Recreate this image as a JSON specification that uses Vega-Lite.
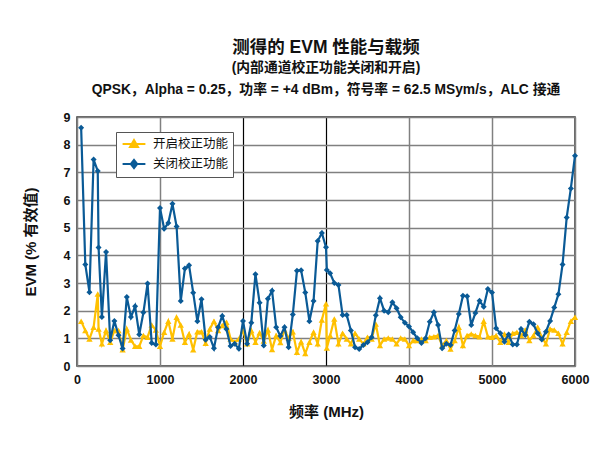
{
  "$schema": "https://vega.github.io/schema/vega-lite/v6.json",
  "autosize": "none",
  "width": 498,
  "height": 249,
  "padding": {"left": 77, "top": 117, "right": 27, "bottom": 92},
  "background": "white",
  "config": {
    "font": "Liberation Sans, Noto Sans CJK SC",
    "view": {"stroke": "#333333", "strokeWidth": 1.5},
    "axis": {"labelFont": "Liberation Sans, Noto Sans CJK SC", "titleFont": "Liberation Sans, Noto Sans CJK SC", "labelFontWeight": "bold", "titleFontWeight": "bold", "labelColor": "#111", "titleColor": "#111", "gridColor": "#808080", "gridWidth": 1.5, "gridOpacity": 1, "ticks": false, "domain": false, "labelFlush": false, "labelOverlap": false, "labelBound": false}
  },
  "title": {
    "text": "测得的 EVM 性能与载频",
    "subtitle": ["(内部通道校正功能关闭和开启)", "QPSK，Alpha = 0.25，功率 = +4 dBm，符号率 = 62.5 MSym/s，ALC 接通"],
    "font": "Liberation Sans, Noto Sans CJK SC",
    "fontSize": 17.5,
    "fontWeight": "bold",
    "color": "#111",
    "subtitleFont": "Liberation Sans, Noto Sans CJK SC",
    "subtitleFontSize": 13.8,
    "subtitleFontWeight": "bold",
    "subtitleColor": "#111",
    "subtitleLineHeight": 22,
    "subtitlePadding": 5,
    "anchor": "middle",
    "offset": 14
  },
  "data": {"name": "evm"},
  "datasets": {
    "evm": [
      {"f":50,"v":1.62,"s":"开启校正功能"},{"f":100,"v":1.28,"s":"开启校正功能"},{"f":150,"v":0.98,"s":"开启校正功能"},{"f":200,"v":1.40,"s":"开启校正功能"},{"f":250,"v":2.6,"s":"开启校正功能"},{"f":260,"v":1.34,"s":"开启校正功能"},{"f":300,"v":0.80,"s":"开启校正功能"},{"f":350,"v":1.28,"s":"开启校正功能"},{"f":400,"v":0.86,"s":"开启校正功能"},{"f":450,"v":1.28,"s":"开启校正功能"},{"f":500,"v":1.28,"s":"开启校正功能"},{"f":550,"v":0.59,"s":"开启校正功能"},{"f":600,"v":1.34,"s":"开启校正功能"},{"f":650,"v":0.94,"s":"开启校正功能"},{"f":700,"v":0.71,"s":"开启校正功能"},{"f":750,"v":0.71,"s":"开启校正功能"},{"f":800,"v":1.10,"s":"开启校正功能"},{"f":850,"v":1.04,"s":"开启校正功能"},{"f":900,"v":1.48,"s":"开启校正功能"},{"f":950,"v":1.30,"s":"开启校正功能"},{"f":1000,"v":0.71,"s":"开启校正功能"},{"f":1050,"v":1.22,"s":"开启校正功能"},{"f":1100,"v":1.62,"s":"开启校正功能"},{"f":1150,"v":0.98,"s":"开启校正功能"},{"f":1200,"v":1.76,"s":"开启校正功能"},{"f":1250,"v":1.48,"s":"开启校正功能"},{"f":1300,"v":0.86,"s":"开启校正功能"},{"f":1350,"v":1.16,"s":"开启校正功能"},{"f":1400,"v":0.59,"s":"开启校正功能"},{"f":1450,"v":1.24,"s":"开启校正功能"},{"f":1500,"v":1.24,"s":"开启校正功能"},{"f":1550,"v":0.82,"s":"开启校正功能"},{"f":1600,"v":1.34,"s":"开启校正功能"},{"f":1650,"v":1.62,"s":"开启校正功能"},{"f":1700,"v":1.28,"s":"开启校正功能"},{"f":1750,"v":1.46,"s":"开启校正功能"},{"f":1800,"v":1.58,"s":"开启校正功能"},{"f":1850,"v":0.98,"s":"开启校正功能"},{"f":1900,"v":0.86,"s":"开启校正功能"},{"f":1950,"v":0.98,"s":"开启校正功能"},{"f":2000,"v":1.28,"s":"开启校正功能"},{"f":2050,"v":0.80,"s":"开启校正功能"},{"f":2100,"v":1.28,"s":"开启校正功能"},{"f":2150,"v":0.86,"s":"开启校正功能"},{"f":2200,"v":1.2,"s":"开启校正功能"},{"f":2250,"v":0.9,"s":"开启校正功能"},{"f":2300,"v":1.3,"s":"开启校正功能"},{"f":2350,"v":0.6,"s":"开启校正功能"},{"f":2400,"v":1.1,"s":"开启校正功能"},{"f":2450,"v":0.85,"s":"开启校正功能"},{"f":2500,"v":1.3,"s":"开启校正功能"},{"f":2550,"v":1.0,"s":"开启校正功能"},{"f":2600,"v":1.24,"s":"开启校正功能"},{"f":2650,"v":0.5,"s":"开启校正功能"},{"f":2700,"v":0.88,"s":"开启校正功能"},{"f":2750,"v":0.45,"s":"开启校正功能"},{"f":2800,"v":0.86,"s":"开启校正功能"},{"f":2850,"v":1.22,"s":"开启校正功能"},{"f":2900,"v":0.8,"s":"开启校正功能"},{"f":2950,"v":1.66,"s":"开启校正功能"},{"f":3000,"v":2.25,"s":"开启校正功能"},{"f":3010,"v":0.65,"s":"开启校正功能"},{"f":3050,"v":1.1,"s":"开启校正功能"},{"f":3100,"v":1.7,"s":"开启校正功能"},{"f":3150,"v":0.8,"s":"开启校正功能"},{"f":3200,"v":1.18,"s":"开启校正功能"},{"f":3250,"v":0.98,"s":"开启校正功能"},{"f":3300,"v":0.8,"s":"开启校正功能"},{"f":3350,"v":1.18,"s":"开启校正功能"},{"f":3400,"v":0.98,"s":"开启校正功能"},{"f":3450,"v":0.8,"s":"开启校正功能"},{"f":3500,"v":1.04,"s":"开启校正功能"},{"f":3550,"v":0.98,"s":"开启校正功能"},{"f":3600,"v":1.52,"s":"开启校正功能"},{"f":3650,"v":0.74,"s":"开启校正功能"},{"f":3700,"v":0.98,"s":"开启校正功能"},{"f":3750,"v":1.01,"s":"开启校正功能"},{"f":3800,"v":0.98,"s":"开启校正功能"},{"f":3850,"v":0.8,"s":"开启校正功能"},{"f":3900,"v":1.01,"s":"开启校正功能"},{"f":3950,"v":0.98,"s":"开启校正功能"},{"f":4000,"v":0.74,"s":"开启校正功能"},{"f":4050,"v":0.92,"s":"开启校正功能"},{"f":4100,"v":0.92,"s":"开启校正功能"},{"f":4150,"v":0.98,"s":"开启校正功能"},{"f":4200,"v":0.92,"s":"开启校正功能"},{"f":4250,"v":1.04,"s":"开启校正功能"},{"f":4300,"v":1.06,"s":"开启校正功能"},{"f":4350,"v":1.10,"s":"开启校正功能"},{"f":4400,"v":0.74,"s":"开启校正功能"},{"f":4450,"v":0.92,"s":"开启校正功能"},{"f":4500,"v":0.61,"s":"开启校正功能"},{"f":4550,"v":0.92,"s":"开启校正功能"},{"f":4600,"v":1.40,"s":"开启校正功能"},{"f":4650,"v":0.74,"s":"开启校正功能"},{"f":4700,"v":1.10,"s":"开启校正功能"},{"f":4750,"v":1.16,"s":"开启校正功能"},{"f":4800,"v":1.10,"s":"开启校正功能"},{"f":4850,"v":1.06,"s":"开启校正功能"},{"f":4900,"v":1.62,"s":"开启校正功能"},{"f":4950,"v":1.06,"s":"开启校正功能"},{"f":5000,"v":1.04,"s":"开启校正功能"},{"f":5050,"v":1.10,"s":"开启校正功能"},{"f":5100,"v":0.86,"s":"开启校正功能"},{"f":5150,"v":1.16,"s":"开启校正功能"},{"f":5200,"v":0.86,"s":"开启校正功能"},{"f":5250,"v":1.18,"s":"开启校正功能"},{"f":5300,"v":1.22,"s":"开启校正功能"},{"f":5350,"v":1.10,"s":"开启校正功能"},{"f":5400,"v":1.30,"s":"开启校正功能"},{"f":5450,"v":0.92,"s":"开启校正功能"},{"f":5500,"v":1.10,"s":"开启校正功能"},{"f":5550,"v":1.40,"s":"开启校正功能"},{"f":5600,"v":1.04,"s":"开启校正功能"},{"f":5650,"v":0.8,"s":"开启校正功能"},{"f":5700,"v":1.34,"s":"开启校正功能"},{"f":5750,"v":1.30,"s":"开启校正功能"},{"f":5800,"v":1.18,"s":"开启校正功能"},{"f":5850,"v":0.8,"s":"开启校正功能"},{"f":5900,"v":1.22,"s":"开启校正功能"},{"f":5950,"v":1.62,"s":"开启校正功能"},{"f":6000,"v":1.76,"s":"开启校正功能"},
      {"f":50,"v":8.61,"s":"关闭校正功能"},{"f":100,"v":3.67,"s":"关闭校正功能"},{"f":150,"v":2.67,"s":"关闭校正功能"},{"f":200,"v":7.46,"s":"关闭校正功能"},{"f":250,"v":7.05,"s":"关闭校正功能"},{"f":260,"v":4.28,"s":"关闭校正功能"},{"f":300,"v":1.77,"s":"关闭校正功能"},{"f":350,"v":4.12,"s":"关闭校正功能"},{"f":400,"v":0.93,"s":"关闭校正功能"},{"f":450,"v":1.63,"s":"关闭校正功能"},{"f":500,"v":1.11,"s":"关闭校正功能"},{"f":550,"v":0.63,"s":"关闭校正功能"},{"f":600,"v":2.49,"s":"关闭校正功能"},{"f":650,"v":1.77,"s":"关闭校正功能"},{"f":700,"v":2.16,"s":"关闭校正功能"},{"f":750,"v":1.14,"s":"关闭校正功能"},{"f":800,"v":1.93,"s":"关闭校正功能"},{"f":850,"v":2.98,"s":"关闭校正功能"},{"f":900,"v":0.83,"s":"关闭校正功能"},{"f":950,"v":0.78,"s":"关闭校正功能"},{"f":1000,"v":5.71,"s":"关闭校正功能"},{"f":1050,"v":4.96,"s":"关闭校正功能"},{"f":1100,"v":5.17,"s":"关闭校正功能"},{"f":1150,"v":5.86,"s":"关闭校正功能"},{"f":1200,"v":5.04,"s":"关闭校正功能"},{"f":1250,"v":2.35,"s":"关闭校正功能"},{"f":1300,"v":3.52,"s":"关闭校正功能"},{"f":1350,"v":3.64,"s":"关闭校正功能"},{"f":1400,"v":2.65,"s":"关闭校正功能"},{"f":1450,"v":1.62,"s":"关闭校正功能"},{"f":1500,"v":2.41,"s":"关闭校正功能"},{"f":1550,"v":0.95,"s":"关闭校正功能"},{"f":1600,"v":1.05,"s":"关闭校正功能"},{"f":1650,"v":0.64,"s":"关闭校正功能"},{"f":1700,"v":1.40,"s":"关闭校正功能"},{"f":1750,"v":1.81,"s":"关闭校正功能"},{"f":1800,"v":1.34,"s":"关闭校正功能"},{"f":1850,"v":0.72,"s":"关闭校正功能"},{"f":1900,"v":0.80,"s":"关闭校正功能"},{"f":1950,"v":0.62,"s":"关闭校正功能"},{"f":2000,"v":1.63,"s":"关闭校正功能"},{"f":2050,"v":0.80,"s":"关闭校正功能"},{"f":2100,"v":1.56,"s":"关闭校正功能"},{"f":2150,"v":3.32,"s":"关闭校正功能"},{"f":2200,"v":2.29,"s":"关闭校正功能"},{"f":2250,"v":0.74,"s":"关闭校正功能"},{"f":2300,"v":2.43,"s":"关闭校正功能"},{"f":2350,"v":2.72,"s":"关闭校正功能"},{"f":2400,"v":1.40,"s":"关闭校正功能"},{"f":2450,"v":1.08,"s":"关闭校正功能"},{"f":2500,"v":1.40,"s":"关闭校正功能"},{"f":2550,"v":0.68,"s":"关闭校正功能"},{"f":2600,"v":1.86,"s":"关闭校正功能"},{"f":2650,"v":3.44,"s":"关闭校正功能"},{"f":2700,"v":3.46,"s":"关闭校正功能"},{"f":2750,"v":2.66,"s":"关闭校正功能"},{"f":2800,"v":1.62,"s":"关闭校正功能"},{"f":2850,"v":2.35,"s":"关闭校正功能"},{"f":2900,"v":4.52,"s":"关闭校正功能"},{"f":2950,"v":4.81,"s":"关闭校正功能"},{"f":3000,"v":4.29,"s":"关闭校正功能"},{"f":3010,"v":3.47,"s":"关闭校正功能"},{"f":3050,"v":3.35,"s":"关闭校正功能"},{"f":3100,"v":3.0,"s":"关闭校正功能"},{"f":3150,"v":2.93,"s":"关闭校正功能"},{"f":3200,"v":1.84,"s":"关闭校正功能"},{"f":3250,"v":1.84,"s":"关闭校正功能"},{"f":3300,"v":1.28,"s":"关闭校正功能"},{"f":3350,"v":0.68,"s":"关闭校正功能"},{"f":3400,"v":0.61,"s":"关闭校正功能"},{"f":3450,"v":0.76,"s":"关闭校正功能"},{"f":3500,"v":0.86,"s":"关闭校正功能"},{"f":3550,"v":1.04,"s":"关闭校正功能"},{"f":3600,"v":1.83,"s":"关闭校正功能"},{"f":3650,"v":2.45,"s":"关闭校正功能"},{"f":3700,"v":2.0,"s":"关闭校正功能"},{"f":3750,"v":1.94,"s":"关闭校正功能"},{"f":3800,"v":2.30,"s":"关闭校正功能"},{"f":3850,"v":2.09,"s":"关闭校正功能"},{"f":3900,"v":1.76,"s":"关闭校正功能"},{"f":3950,"v":1.56,"s":"关闭校正功能"},{"f":4000,"v":1.43,"s":"关闭校正功能"},{"f":4050,"v":1.22,"s":"关闭校正功能"},{"f":4100,"v":1.0,"s":"关闭校正功能"},{"f":4150,"v":0.83,"s":"关闭校正功能"},{"f":4200,"v":1.0,"s":"关闭校正功能"},{"f":4250,"v":1.60,"s":"关闭校正功能"},{"f":4300,"v":1.94,"s":"关闭校正功能"},{"f":4350,"v":1.48,"s":"关闭校正功能"},{"f":4400,"v":0.64,"s":"关闭校正功能"},{"f":4450,"v":0.80,"s":"关闭校正功能"},{"f":4500,"v":0.76,"s":"关闭校正功能"},{"f":4550,"v":1.28,"s":"关闭校正功能"},{"f":4600,"v":1.88,"s":"关闭校正功能"},{"f":4650,"v":2.54,"s":"关闭校正功能"},{"f":4700,"v":2.52,"s":"关闭校正功能"},{"f":4750,"v":1.48,"s":"关闭校正功能"},{"f":4800,"v":1.92,"s":"关闭校正功能"},{"f":4850,"v":2.36,"s":"关闭校正功能"},{"f":4900,"v":2.14,"s":"关闭校正功能"},{"f":4950,"v":2.78,"s":"关闭校正功能"},{"f":5000,"v":2.66,"s":"关闭校正功能"},{"f":5050,"v":1.36,"s":"关闭校正功能"},{"f":5100,"v":1.18,"s":"关闭校正功能"},{"f":5150,"v":0.88,"s":"关闭校正功能"},{"f":5200,"v":1.14,"s":"关闭校正功能"},{"f":5250,"v":0.78,"s":"关闭校正功能"},{"f":5300,"v":0.78,"s":"关闭校正功能"},{"f":5350,"v":1.34,"s":"关闭校正功能"},{"f":5400,"v":1.12,"s":"关闭校正功能"},{"f":5450,"v":1.60,"s":"关闭校正功能"},{"f":5500,"v":1.51,"s":"关闭校正功能"},{"f":5550,"v":1.18,"s":"关闭校正功能"},{"f":5600,"v":0.96,"s":"关闭校正功能"},{"f":5650,"v":1.24,"s":"关闭校正功能"},{"f":5700,"v":1.63,"s":"关闭校正功能"},{"f":5750,"v":2.11,"s":"关闭校正功能"},{"f":5800,"v":2.59,"s":"关闭校正功能"},{"f":5850,"v":3.67,"s":"关闭校正功能"},{"f":5900,"v":5.37,"s":"关闭校正功能"},{"f":5950,"v":6.42,"s":"关闭校正功能"},{"f":6000,"v":7.60,"s":"关闭校正功能"}
    ]
  },
  "encoding": {
    "x": {"field": "f", "type": "quantitative", "scale": {"domain": [0, 6000], "nice": false, "zero": false},
          "axis": {"values": [0,1000,2000,3000,4000,5000,6000], "format": "d", "title": "频率 (MHz)", "labelFontSize": 12.5, "titleFontSize": 15, "labelPadding": 7, "titlePadding": 19,
                   "gridColor": {"condition": {"test": "datum.value === 2000 || datum.value === 3000", "value": "#000000"}, "value": "#808080"},
                   "gridWidth": {"condition": {"test": "datum.value === 2000 || datum.value === 3000", "value": 1.2}, "value": 1.5}}},
    "y": {"field": "v", "type": "quantitative", "scale": {"domain": [0, 9], "nice": false, "zero": false},
          "axis": {"values": [0,1,2,3,4,5,6,7,8,9], "format": "d", "title": "EVM (% 有效值)", "labelFontSize": 12.5, "titleFontSize": 15, "labelPadding": 7, "titlePadding": 25, "labelOverlap": false}},
    "color": {"field": "s", "type": "nominal",
      "scale": {"domain": ["开启校正功能", "关闭校正功能"], "range": ["#FFC000", "#0A5A96"]},
      "legend": {
        "orient": "none", "legendX": 39, "legendY": 15, "title": null, "direction": "vertical",
        "fillColor": "white", "strokeColor": "#555555", "padding": 4,
        "labelFont": "Liberation Sans, Noto Sans CJK SC", "labelFontSize": 12.5, "labelColor": "#111",
        "symbolSize": 180, "symbolStrokeWidth": 2, "symbolOffset": 6, "rowPadding": 3, "labelOffset": 11, "labelLimit": 200,
        "encode": {"symbols": {"update": {
          "shape": {"signal": "datum.value === '开启校正功能' ? 'M-1.7,0L1.7,0M-0.6,0.45L0,-0.6L0.6,0.45Z' : 'M-1.7,0L1.7,0M0,-0.6L0.48,0L0,0.6L-0.48,0Z'"},
          "fill": {"signal": "datum.value === '开启校正功能' ? '#FFC000' : '#0A5A96'"},
          "stroke": {"signal": "datum.value === '开启校正功能' ? '#FFC000' : '#0A5A96'"},
          "strokeWidth": {"value": 2}
        }}}
      }}
  },
  "layer": [
    {
      "transform": [{"filter": "datum.s === '开启校正功能'"}],
      "mark": {"type": "line", "strokeWidth": 2.2}
    },
    {
      "transform": [{"filter": "datum.s === '开启校正功能'"}],
      "mark": {"type": "point", "shape": "triangle-up", "filled": true, "size": 40, "opacity": 1}
    },
    {
      "transform": [{"filter": "datum.s === '关闭校正功能'"}],
      "mark": {"type": "line", "strokeWidth": 2.2}
    },
    {
      "transform": [{"filter": "datum.s === '关闭校正功能'"}],
      "mark": {"type": "point", "shape": "diamond", "filled": true, "size": 36, "opacity": 1}
    }
  ]
}
